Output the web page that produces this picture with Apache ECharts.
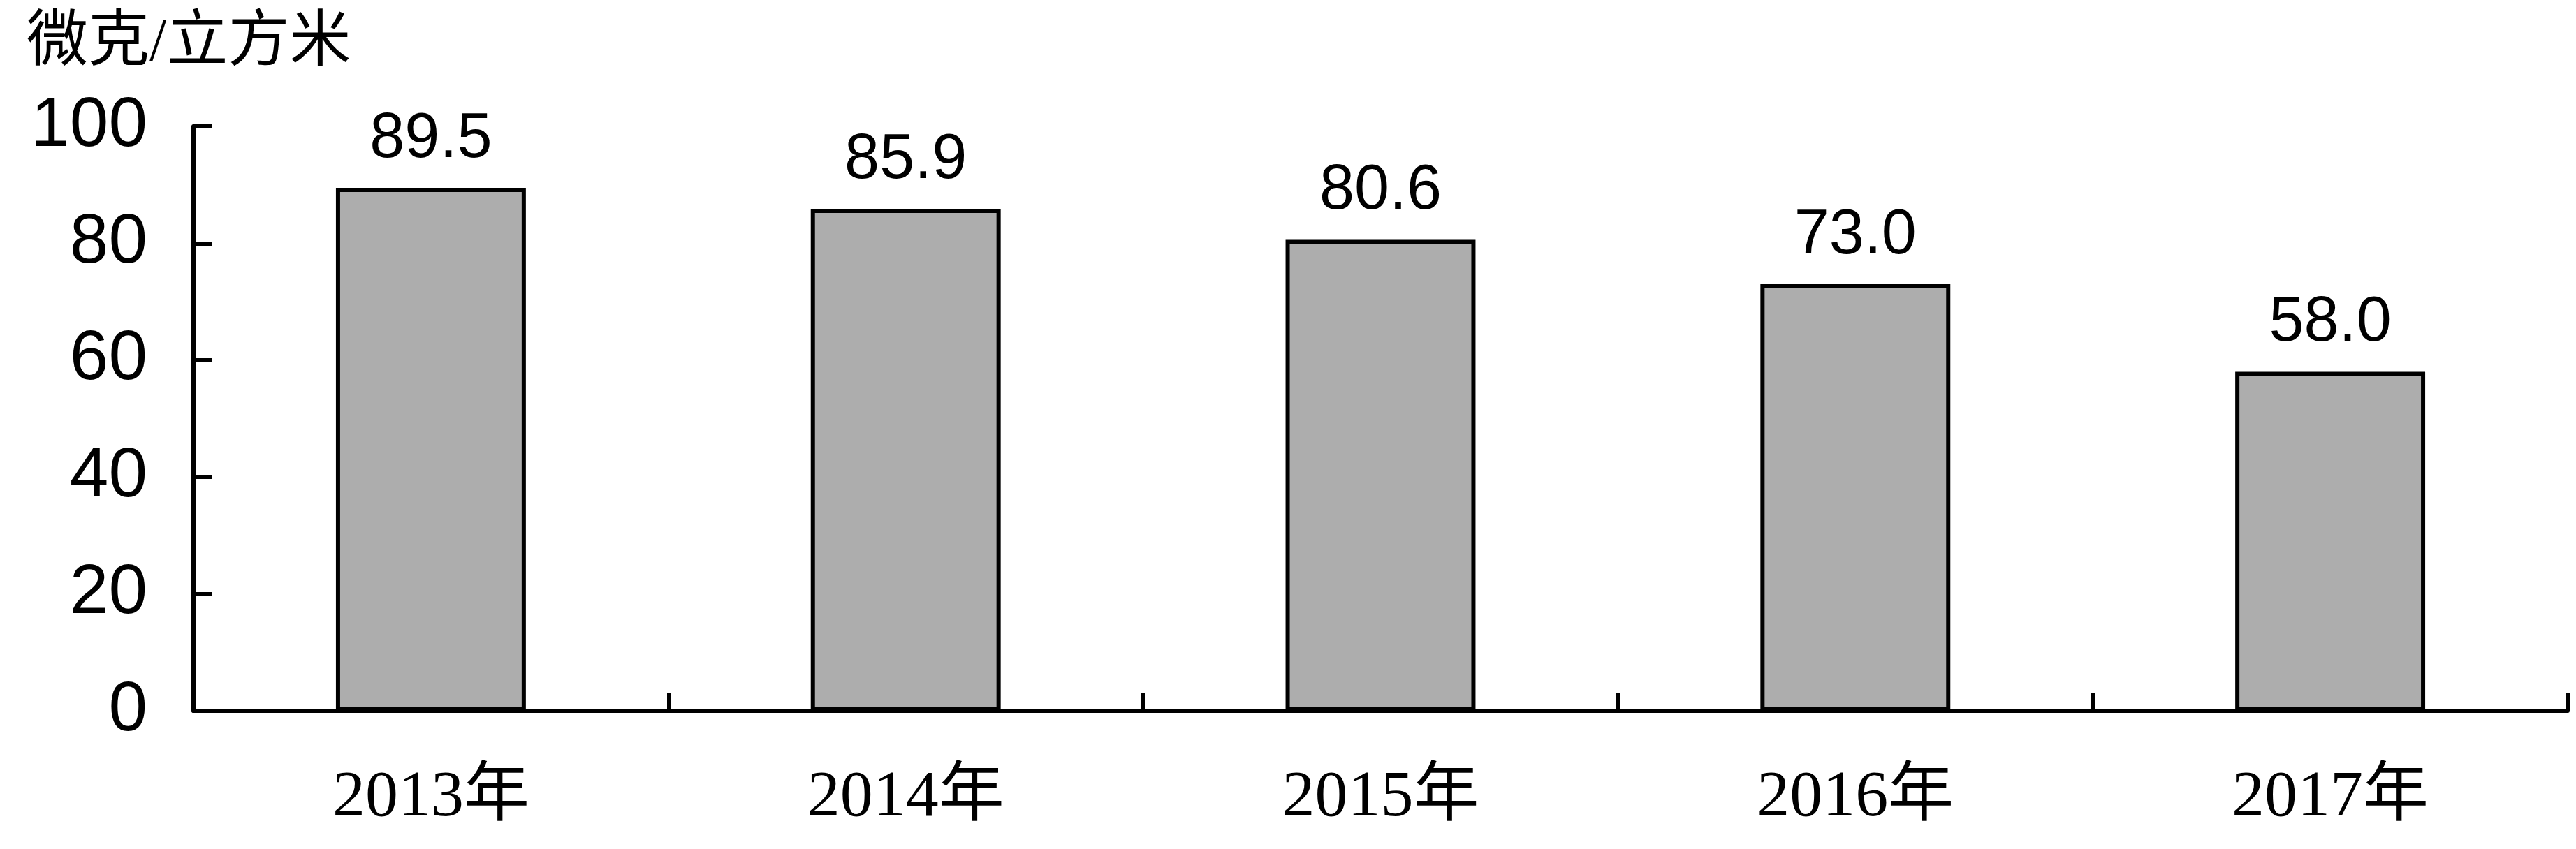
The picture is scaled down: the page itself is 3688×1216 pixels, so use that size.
<!DOCTYPE html>
<html>
<head>
<meta charset="utf-8">
<title>PM2.5</title>
<script src="https://cdn.jsdelivr.net/npm/echarts@6/dist/echarts.min.js"></script>
<style>
	*{
		margin: 0;
		padding: 0;
	}
	body{
		background: #fff;
	}
	#chart{
		width: 3688px;
		height: 1216px;
	}
</style>
</head>
<body>
<div id="chart"></div>
<script>
// 数据
var years = ['2013年', '2014年', '2015年', '2016年', '2017年'];
var values = [89.5, 85.9, 80.6, 73.0, 58.0];
var unitName = '微克/立方米';

var myChart = echarts.init(document.getElementById('chart'));

var option = {
	backgroundColor: '#ffffff',
	animation: false,
	title: {
		text: unitName,
		left: 33,
		top: 14,
		textStyle: {
			color: '#000',
			fontSize: 88,
			fontWeight: 'normal',
			fontFamily: '"Liberation Serif", "Noto Sans CJK SC", serif'
		}
	},
	grid: {
		left: 277,
		right: 12,
		top: 181,
		bottom: 198
	},
	xAxis: {
		type: 'category',
		data: years,
		boundaryGap: true,
		axisLine: {
			lineStyle: { color: '#000', width: 6 }
		},
		axisTick: {
			show: true,
			inside: true,
			length: 26,
			lineStyle: { color: '#000', width: 5 }
		},
		axisLabel: {
			color: '#000',
			fontSize: 94,
			margin: 78,
			fontFamily: '"Liberation Serif", "Noto Sans CJK SC", serif'
		}
	},
	yAxis: {
		type: 'value',
		min: 0,
		max: 100,
		interval: 20,
		splitLine: { show: false },
		axisLine: {
			show: true,
			lineStyle: { color: '#000', width: 6 }
		},
		axisTick: {
			show: true,
			inside: true,
			length: 26,
			lineStyle: { color: '#000', width: 6 }
		},
		axisLabel: {
			color: '#000',
			fontSize: 100,
			margin: 66,
			fontFamily: '"Liberation Sans", Arial, sans-serif'
		}
	},
	series: [
		{
			name: 'PM2.5',
			type: 'bar',
			data: values,
			barWidth: '40%',
			itemStyle: {
				color: '#adadad',
				borderColor: '#000',
				borderWidth: 6
			},
			label: {
				show: true,
				position: 'top',
				distance: 24,
				color: '#000',
				fontSize: 90,
				fontFamily: '"Liberation Sans", Arial, sans-serif',
				formatter: function (p) {
					return p.value.toFixed(1);
				}
			}
		}
	]
};

myChart.setOption(option);
</script>
</body>
</html>
